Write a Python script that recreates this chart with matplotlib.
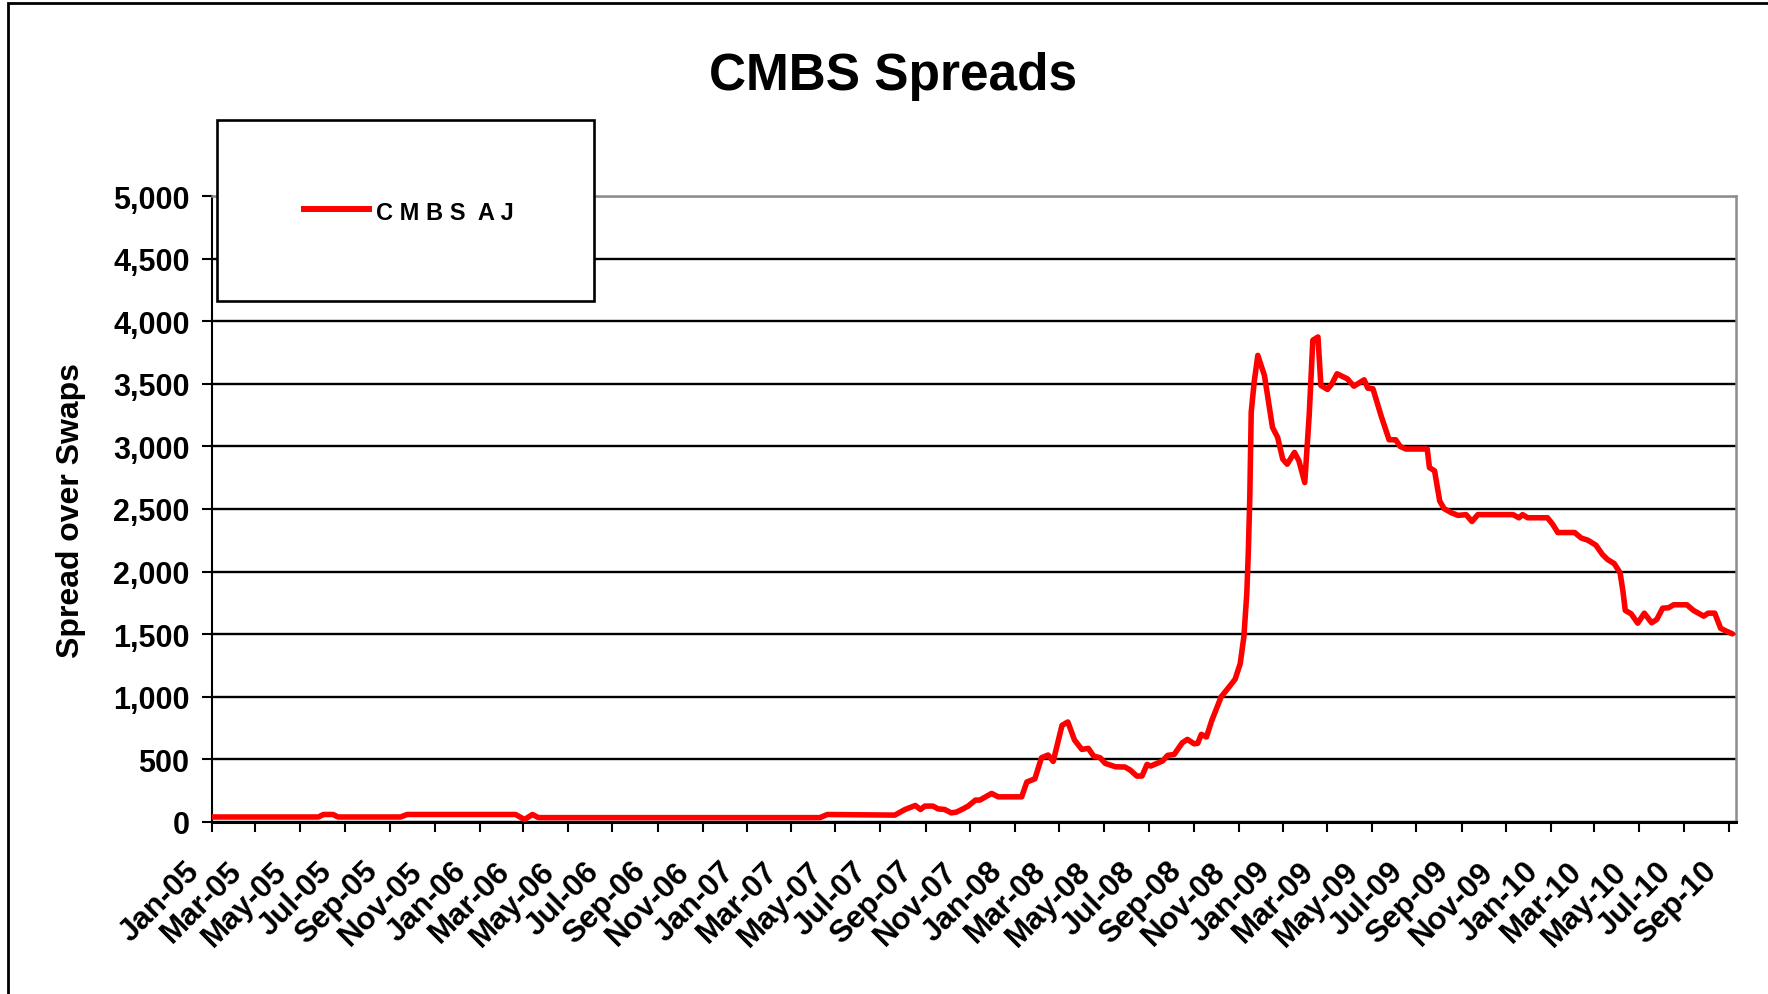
import matplotlib
matplotlib.use("Agg")
import matplotlib.pyplot as plt
import matplotlib.dates as mdates
import matplotlib.transforms as mtransforms
from matplotlib.patches import Rectangle
from matplotlib.lines import Line2D
from matplotlib.ticker import MultipleLocator, FuncFormatter
import pandas as pd

plt.rcParams['font.family'] = ['Liberation Sans', 'DejaVu Sans']
plt.rcParams['font.weight'] = 'bold'

# CMBS AJ spread over swaps (bp)
dates = [
    '2005-01-01', '2005-05-26', '2005-06-02', '2005-06-15', '2005-06-22',
    '2005-09-15', '2005-09-24', '2006-02-19', '2006-03-03', '2006-03-14',
    '2006-03-22', '2007-04-10', '2007-04-20', '2007-07-21', '2007-08-04',
    '2007-08-18', '2007-08-25', '2007-08-31', '2007-09-11', '2007-09-18',
    '2007-09-27', '2007-10-06', '2007-10-13', '2007-10-22', '2007-10-29',
    '2007-11-08', '2007-11-14', '2007-11-30', '2007-12-09', '2008-01-10',
    '2008-01-17', '2008-01-28', '2008-02-06', '2008-02-15', '2008-02-22',
    '2008-03-05', '2008-03-13', '2008-03-22', '2008-04-01', '2008-04-10',
    '2008-04-17', '2008-04-26', '2008-05-03', '2008-05-17', '2008-05-30',
    '2008-06-06', '2008-06-15', '2008-06-22', '2008-06-29', '2008-07-04',
    '2008-07-20', '2008-07-27', '2008-08-05', '2008-08-16', '2008-08-23',
    '2008-09-01', '2008-09-06', '2008-09-11', '2008-09-18', '2008-09-25',
    '2008-10-08', '2008-10-19', '2008-10-27', '2008-11-03', '2008-11-08',
    '2008-11-12', '2008-11-14', '2008-11-16', '2008-11-17', '2008-11-18',
    '2008-11-22', '2008-11-27', '2008-12-06', '2008-12-17', '2008-12-24',
    '2008-12-31', '2009-01-06', '2009-01-16', '2009-01-22', '2009-01-30',
    '2009-02-05', '2009-02-10', '2009-02-17', '2009-02-21', '2009-03-02',
    '2009-03-08', '2009-03-15', '2009-03-29', '2009-04-07', '2009-04-21',
    '2009-04-26', '2009-05-03', '2009-05-14', '2009-05-25', '2009-06-03',
    '2009-06-09', '2009-06-17', '2009-07-16', '2009-07-19', '2009-07-26',
    '2009-08-02', '2009-08-08', '2009-08-18', '2009-08-27', '2009-09-07',
    '2009-09-15', '2009-09-23', '2009-11-10', '2009-11-18', '2009-11-23',
    '2009-11-30', '2009-12-27', '2010-01-03', '2010-01-10', '2010-02-02',
    '2010-02-11', '2010-02-20', '2010-03-03', '2010-03-12', '2010-03-19',
    '2010-03-28', '2010-04-05', '2010-04-09', '2010-04-12', '2010-04-20',
    '2010-04-29', '2010-05-08', '2010-05-18', '2010-05-25', '2010-06-02',
    '2010-06-10', '2010-06-17', '2010-07-05', '2010-07-14', '2010-07-28',
    '2010-08-03', '2010-08-12', '2010-08-20', '2010-08-26', '2010-09-05',
]
cmbs_aj = [
    40, 40, 60, 60, 40,
    40, 60, 60, 20, 60,
    35, 35, 60, 55, 100,
    132, 100, 127, 127, 105,
    100, 73, 79, 105, 127,
    175, 175, 228, 201, 201,
    319, 345, 513, 535, 484,
    772, 799, 655, 580, 588,
    527, 513, 468, 441, 439,
    415, 367, 367, 460, 447,
    487, 532, 540, 633, 660,
    625, 628, 700, 679, 807,
    1000, 1080, 1140, 1265, 1481,
    1829, 2150, 2577, 2952, 3273,
    3513, 3727, 3567, 3152, 3072,
    2898, 2858, 2952, 2885, 2711,
    3246, 3848, 3874, 3487, 3455,
    3500, 3580, 3540, 3481, 3532,
    3465, 3460, 3246, 3053, 3053,
    3000, 2979, 2979, 2831, 2805,
    2564, 2503, 2470, 2449, 2455,
    2400, 2455, 2455, 2430, 2455,
    2430, 2430, 2378, 2312, 2312,
    2268, 2251, 2211, 2136, 2096,
    2064, 1989, 1837, 1690, 1663,
    1588, 1668, 1591, 1618, 1708,
    1711, 1735, 1735, 1690, 1644,
    1668, 1668, 1548, 1529, 1503,
]
series_name = 'C M B S  A J'
x_start, x_end = '2005-01-01', '2010-09-10'

W, H = 1768, 995
fig = plt.figure(figsize=(W / 100, H / 100), dpi=100)
ax = fig.add_axes([212 / W, 1 - 823 / H, 1524 / W, 626 / H])

ax.plot(pd.to_datetime(dates), cmbs_aj, color='#ff0000', lw=4.0,
        solid_joinstyle='round', solid_capstyle='round', zorder=3)

ax.set_ylim(0, 5000)
ax.set_xlim(pd.Timestamp(x_start), pd.Timestamp(x_end))
ax.yaxis.set_major_locator(MultipleLocator(500))
ax.yaxis.set_major_formatter(FuncFormatter(lambda v, p: f"{int(v):,}"))
ax.xaxis.set_major_locator(mdates.MonthLocator(bymonth=[1, 3, 5, 7, 9, 11]))
ax.xaxis.set_major_formatter(mdates.DateFormatter('%b-%y'))

# black gridlines, except at 0 and the top (frame is grey there)
for v in ax.get_yticks()[1:-1]:
    ax.axhline(v, color='black', lw=1.7, zorder=1)

ax.spines['top'].set_color('#8c8c8c')
ax.spines['right'].set_color('#8c8c8c')
ax.spines['top'].set_linewidth(1.8)
ax.spines['right'].set_linewidth(1.8)
ax.spines['bottom'].set_linewidth(2.2)
ax.spines['left'].set_linewidth(1.5)

ax.tick_params(axis='y', direction='out', length=7.2, width=1.5,
               labelsize=22, pad=9)
ax.tick_params(axis='x', direction='out', length=7.2, width=1.5,
               labelsize=22.5, pad=17)

offset = mtransforms.ScaledTranslation(-0.28, 0, fig.dpi_scale_trans)
for lbl in ax.get_xticklabels():
    lbl.set_rotation(45)
    lbl.set_ha('right')
    lbl.set_va('top')
    lbl.set_rotation_mode('anchor')
    lbl.set_transform(lbl.get_transform() + offset)

ax.set_ylabel('Spread over Swaps', fontsize=23, fontweight='bold')
ax.yaxis.set_label_coords(-0.083, 0.5)

fig.text(893 / W, 1 - 90 / H, 'CMBS Spreads', ha='center', va='baseline',
         fontsize=37, fontweight='bold')

# legend box drawn by hand, it sits over the top gridlines
fig.add_artist(Rectangle((216.5 / W, 1 - 302 / H), 377.5 / W, 181.3 / H,
                         transform=fig.transFigure, facecolor='white',
                         edgecolor='black', lw=1.9, zorder=5))
fig.add_artist(Line2D([304 / W, 369 / W], [1 - 210 / H, 1 - 210 / H],
                      transform=fig.transFigure, color='#ff0000', lw=4.3,
                      zorder=6))
fig.text(376 / W, 1 - 220 / H, series_name, ha='left', va='baseline',
         fontsize=17, fontweight='bold', zorder=6)

# outer chart border (runs off the right and bottom of the image)
fig.add_artist(Rectangle((8 / W, -0.1), 1.2, 1.1 - 4 / H,
                         transform=fig.transFigure, fill=False,
                         edgecolor='black', lw=2))

fig.savefig('out.png', dpi=100)
plt.close(fig)
